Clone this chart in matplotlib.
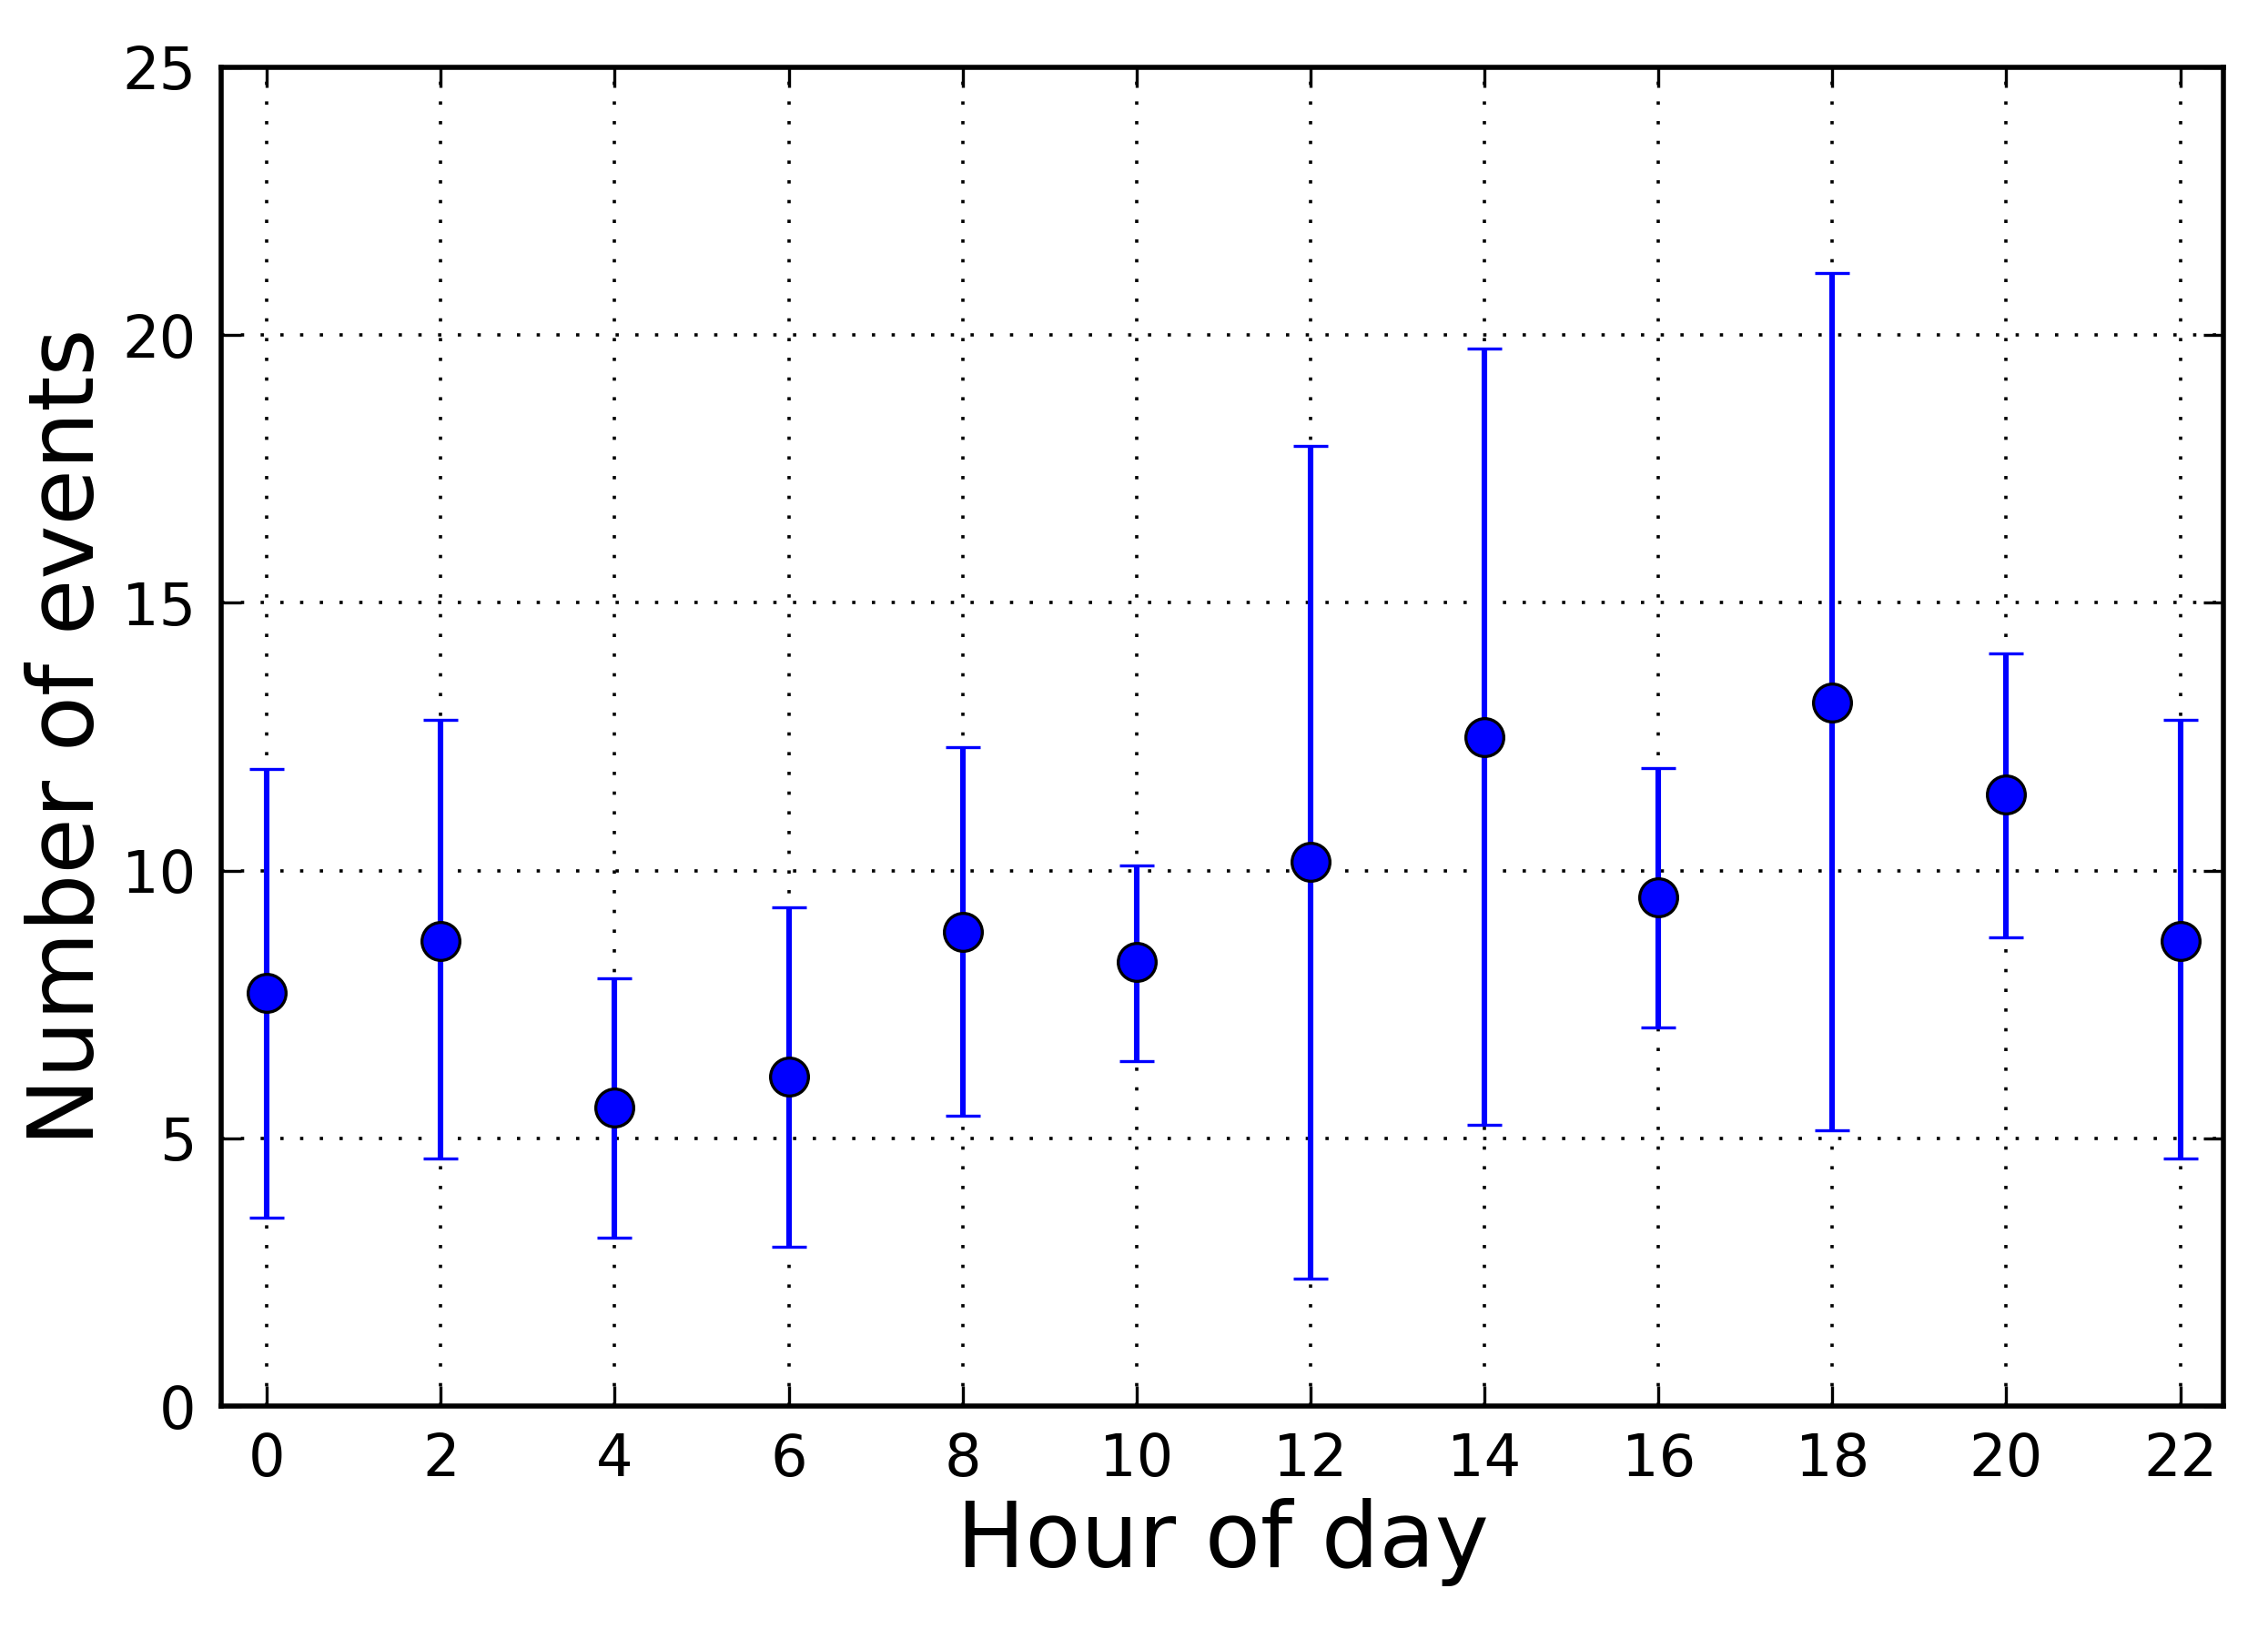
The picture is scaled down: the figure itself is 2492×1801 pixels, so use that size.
import matplotlib
matplotlib.use("Agg")
import matplotlib.pyplot as plt
import numpy as np

hours = [0, 2, 4, 6, 8, 10, 12, 14, 16, 18, 20, 22]
means = [7.72, 8.69, 5.58, 6.15, 8.86, 8.29, 10.16, 12.49, 9.51, 13.14, 11.43, 8.69]
upper = [11.89, 12.81, 7.99, 9.32, 12.30, 10.10, 17.93, 19.75, 11.92, 21.15, 14.06, 12.81]
lower = [3.52, 4.63, 3.14, 2.98, 5.42, 6.45, 2.38, 5.25, 7.07, 5.15, 8.75, 4.63]

m = np.array(means)
yerr = [m - np.array(lower), np.array(upper) - m]

fig = plt.figure(figsize=(12.46, 9.005), dpi=200)
ax = fig.add_axes([0.0977, 0.142, 0.8828, 0.817])
ax.errorbar(hours, means, yerr=yerr, fmt='o', color='blue', ecolor='blue',
            markersize=15, markeredgecolor='black', markeredgewidth=1.2,
            elinewidth=2.2, capsize=7, capthick=1.5)
ax.set_xlim(-0.52, 22.5)
ax.set_ylim(0, 25)
ax.set_xticks(hours)
ax.set_yticks([0, 5, 10, 15, 20, 25])
ax.grid(True, color='black', linestyle=(0, (1, 5)), linewidth=1.3)
ax.tick_params(direction='in', length=8, width=1.2, labelsize=23, top=True, right=True, pad=10)
for s in ax.spines.values():
    s.set_linewidth(2)
ax.set_xlabel("Hour of day", fontsize=36)
ax.set_ylabel("Number of events", fontsize=36)
fig.savefig("out.png", dpi=200)
